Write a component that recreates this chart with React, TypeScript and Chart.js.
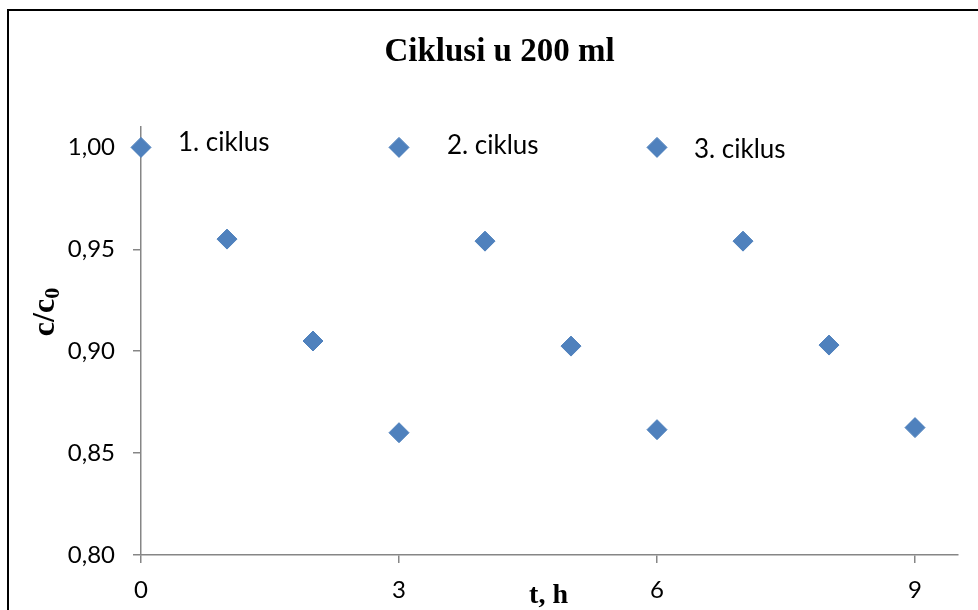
import React, { useEffect, useRef } from "react";
import { Chart, registerables } from "chart.js";

Chart.register(...registerables);

const chartTitle = "Ciklusi u 200 ml";
const xTitle = "t, h";
const yTitleMain = "c/c";
const yTitleSub = "0";

const cycleLabels = ["1. ciklus", "2. ciklus", "3. ciklus"];
const cycle1X = [0, 1, 2, 3];
const cycle1Y = [1.0, 0.955, 0.905, 0.86];
const cycle2X = [3, 4, 5, 6];
const cycle2Y = [1.0, 0.954, 0.9025, 0.8615];
const cycle3X = [6, 7, 8, 9];
const cycle3Y = [1.0, 0.954, 0.903, 0.8625];

const xTicks = [0, 3, 6, 9];
const yTicks = [0.8, 0.85, 0.9, 0.95, 1.0];

const MARKER = "#4F81BD";
const AXIS = "#868686";
const TICK_FONT = "Lato";

const toPts = (xs: number[], ys: number[]) => xs.map((x, i) => ({ x, y: ys[i] }));

export default function App() {
  const ref = useRef<HTMLCanvasElement>(null);

  useEffect(() => {
    const canvas = ref.current;
    if (!canvas) return;

    const decor = {
      id: "decor",
      beforeDraw(chart: any) {
        const ctx = chart.ctx;
        ctx.save();
        ctx.fillStyle = "#ffffff";
        ctx.fillRect(0, 0, chart.width, chart.height);
        ctx.strokeStyle = "#000000";
        ctx.lineWidth = 2;
        ctx.beginPath();
        ctx.moveTo(8, chart.height + 5);
        ctx.lineTo(8, 10);
        ctx.lineTo(chart.width + 5, 10);
        ctx.stroke();
        ctx.restore();
      },
      afterDraw(chart: any) {
        const ctx = chart.ctx;
        const area = chart.chartArea;
        ctx.save();
        ctx.fillStyle = "#000000";
        // title
        ctx.font = "bold 33px 'Liberation Serif'";
        ctx.textAlign = "center";
        ctx.textBaseline = "alphabetic";
        ctx.fillText(chartTitle, (area.left + area.right) / 2 - 50, 61);
        // x title
        ctx.font = "bold 28px 'Liberation Serif'";
        ctx.fillText(xTitle, (area.left + area.right) / 2 - 1, 603);
        // y title with subscript
        ctx.save();
        ctx.translate(54, 312);
        ctx.rotate(-Math.PI / 2);
        ctx.font = "bold 32px 'Liberation Serif'";
        const wMain = ctx.measureText(yTitleMain).width;
        ctx.font = "bold 22px 'Liberation Serif'";
        const wSub = ctx.measureText(yTitleSub).width;
        const start = -(wMain + wSub) / 2;
        ctx.textAlign = "left";
        ctx.font = "bold 32px 'Liberation Serif'";
        ctx.fillText(yTitleMain, start, 0);
        ctx.font = "bold 22px 'Liberation Serif'";
        ctx.fillText(yTitleSub, start + wMain, 5);
        ctx.restore();
        // cycle labels
        ctx.font = `26px ${TICK_FONT}`;
        ctx.textAlign = "left";
        ctx.textBaseline = "middle";
        const offs = [
          [37, -5],
          [48, -2],
          [37, 2],
        ];
        chart.data.datasets.forEach((ds: any, i: number) => {
          const meta = chart.getDatasetMeta(i);
          const el = meta.data[0];
          if (!el) return;
          ctx.fillText(cycleLabels[i], el.x + offs[i][0], el.y + offs[i][1]);
        });
        ctx.restore();
      },
    };

    const mkDs = (xs: number[], ys: number[], label: string) => ({
      label,
      data: toPts(xs, ys),
      backgroundColor: MARKER,
      borderColor: MARKER,
      borderWidth: 1,
      pointStyle: "rectRot",
      pointRadius: 10,
      pointHoverRadius: 10,
      showLine: false,
      clip: false,
    });

    const chart = new Chart(canvas, {
      type: "scatter",
      data: {
        datasets: [
          mkDs(cycle1X, cycle1Y, cycleLabels[0]),
          mkDs(cycle2X, cycle2Y, cycleLabels[1]),
          mkDs(cycle3X, cycle3Y, cycleLabels[2]),
        ],
      },
      options: {
        responsive: false,
        animation: false,
        layout: { padding: { top: 127, right: 20, left: 0, bottom: 0 } },
        plugins: {
          legend: { display: false },
          tooltip: { enabled: false },
          title: { display: false },
        },
        scales: {
          x: {
            type: "linear",
            min: 0,
            max: 9.5,
            afterBuildTicks: (s: any) => {
              s.ticks = xTicks.map((v) => ({ value: v }));
            },
            afterFit: (s: any) => {
              s.height = 55;
            },
            grid: {
              drawOnChartArea: false,
              drawTicks: true,
              tickLength: 8,
              color: AXIS,
              lineWidth: 1.5,
            },
            border: { color: AXIS, width: 1.5 },
            ticks: {
              color: "#000000",
              font: { family: TICK_FONT, size: 24 },
              padding: 13,
              maxRotation: 0,
              callback: (v: any) => String(v),
            },
          },
          y: {
            type: "linear",
            min: 0.8,
            max: 1.01,
            afterBuildTicks: (s: any) => {
              s.ticks = yTicks.map((v) => ({ value: v }));
            },
            afterFit: (s: any) => {
              s.width = 141;
            },
            grid: {
              drawOnChartArea: false,
              drawTicks: true,
              tickLength: 8,
              color: AXIS,
              lineWidth: 1.5,
            },
            border: { color: AXIS, width: 1.5 },
            ticks: {
              color: "#000000",
              font: { family: TICK_FONT, size: 24 },
              padding: 18,
              callback: (v: any) => Number(v).toFixed(2).replace(".", ","),
            },
          },
        },
      },
      plugins: [decor],
    } as any);

    return () => chart.destroy();
  }, []);

  return (
    <div style={{ position: "fixed", left: 0, top: 0, width: 978, height: 610, background: "#fff" }}>
      <canvas ref={ref} width={978} height={610} style={{ width: 978, height: 610, display: "block" }} />
    </div>
  );
}
